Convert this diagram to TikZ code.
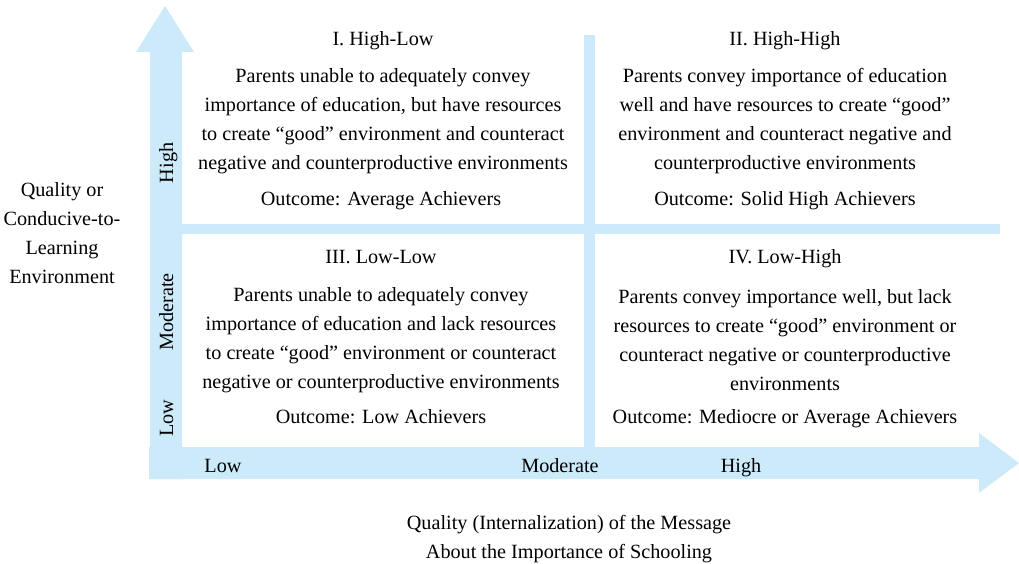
\documentclass[tikz,border=0pt]{standalone}
\usepackage{fontspec}
\setmainfont{Liberation Serif}
\definecolor{band}{RGB}{204,234,250}
\begin{document}
\begin{tikzpicture}[x=1pt,y=-1pt,
  txt/.style={font=\fontsize{20.2}{29}\selectfont, align=center, inner sep=0pt, anchor=center},
  lbl/.style={font=\fontsize{20.2}{29}\selectfont, inner sep=0pt, anchor=center, text height=14pt, text depth=4pt}]
\useasboundingbox (0,0) rectangle (1019,564);
% vertical arrow
\fill[band] (150,479) -- (150,52) -- (136,52) -- (165,6) -- (194,52) -- (182,52) -- (182,479) -- cycle;
% horizontal arrow
\fill[band] (149,447) -- (979,447) -- (979,433) -- (1019,463) -- (979,493) -- (979,479) -- (149,479) -- cycle;
% grid bands
\fill[band] (182,224) rectangle (1000,234);
\fill[band] (584,35) rectangle (595,447);
% quadrant I
\node[lbl] (t1) at (383,40.5) {I. High-Low};
\node[txt] (b1) at (383,121.5) {Parents unable to adequately convey\\importance of education, but have resources\\to create “good” environment and counteract\\negative and counterproductive environments};
\node[lbl] (o1) at (381,200.5) {Outcome: Average Achievers};
% quadrant II
\node[lbl] (t2) at (785,40.5) {II. High-High};
\node[txt] (b2) at (785,121.5) {Parents convey importance of education\\well and have resources to create “good”\\environment and counteract negative and\\counterproductive environments};
\node[lbl] (o2) at (785,200.5) {Outcome: Solid High Achievers};
% quadrant III
\node[lbl] (t3) at (381,258.5) {III. Low-Low};
\node[txt] (b3) at (381,340.5) {Parents unable to adequately convey\\importance of education and lack resources\\to create “good” environment or counteract\\negative or counterproductive environments};
\node[lbl] (o3) at (381,418.5) {Outcome: Low Achievers};
% quadrant IV
\node[lbl] (t4) at (785,258.5) {IV. Low-High};
\node[txt] (b4) at (785,340) {Parents convey importance well, but lack\\resources to create “good” environment or\\counteract negative or counterproductive\\environments};
\node[lbl] (o4) at (785,418.5) {Outcome: Mediocre or Average Achievers};
% y axis labels
\node[txt] (ylab) at (62,233) {Quality or\\Conducive-to-\\Learning\\Environment};
\node[lbl, rotate=90] (yh) at (168,163) {High};
\node[lbl, rotate=90] (ym) at (168,312) {Moderate};
\node[lbl, rotate=90] (yl) at (168,418) {Low};
% x axis labels
\node[lbl] (xl) at (223,467.5) {Low};
\node[lbl] (xm) at (560,467.5) {Moderate};
\node[lbl] (xh) at (741,467.5) {High};
\node[txt] (xlab) at (569,539) {Quality (Internalization) of the Message\\About the Importance of Schooling};
\end{tikzpicture}
\end{document}
